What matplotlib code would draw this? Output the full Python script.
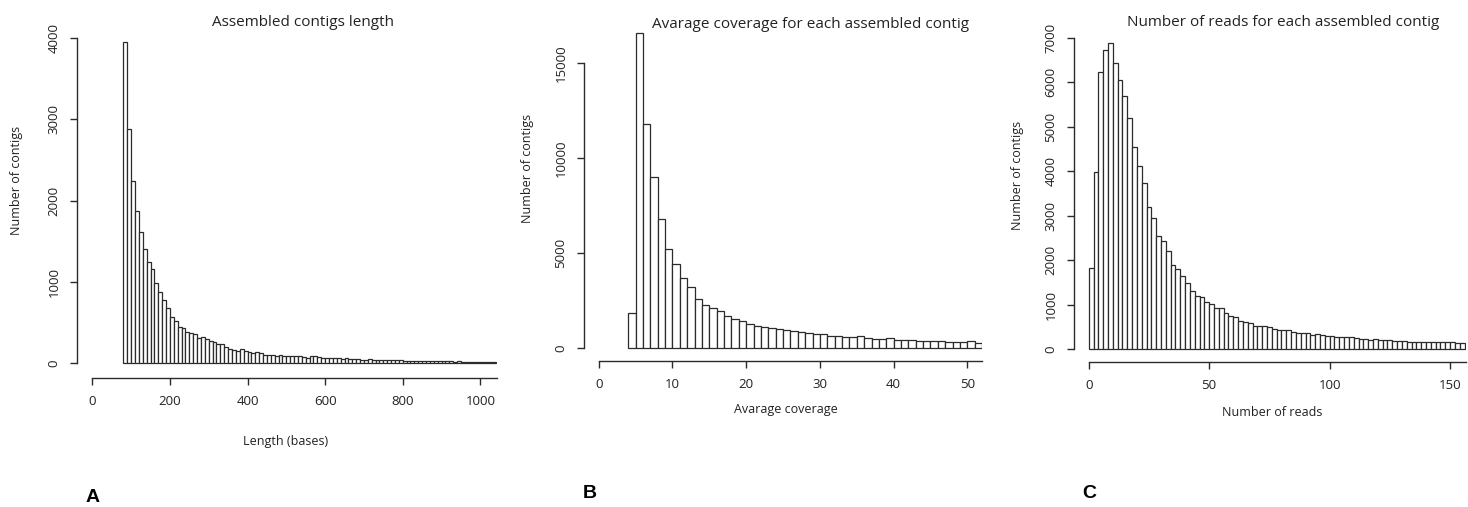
import numpy as np
import matplotlib
matplotlib.use('Agg')
import matplotlib.pyplot as plt

# panel A: contig length, bins of 10 starting at 80
len_start = 80
len_width = 10
len_counts = [3945, 2880, 2240, 1870, 1610, 1400, 1241, 1159, 991, 872,
              778, 683, 573, 520, 450, 438, 388, 369, 360, 307,
              320, 299, 274, 258, 233, 233, 204, 180, 164, 155,
              172, 155, 143, 123, 139, 131, 102, 102, 98, 94,
              100, 95, 92, 88, 90, 85, 80, 62, 88, 90,
              75, 70, 68, 66, 62, 60, 58, 60, 55, 58,
              48, 45, 44, 50, 42, 40, 38, 40, 36, 35,
              36, 40, 34, 32, 30, 31, 28, 30, 27, 28,
              26, 27, 24, 25, 24, 22, 24, 21, 20, 22,
              20, 21, 19, 20, 18, 17]

# panel B: average coverage, bins of 1 starting at 4
cov_start = 4
cov_width = 1
cov_counts = [1840, 16540, 11760, 8980, 6790, 5215, 4410, 3675, 3220, 2600,
              2290, 2140, 1970, 1720, 1550, 1410, 1290, 1180, 1110, 1060,
              1010, 940, 885, 850, 800, 760, 760, 660, 655, 590,
              590, 620, 520, 500, 480, 515, 430, 445, 445, 375,
              375, 375, 390, 340, 340, 340, 400, 300]

# panel C: number of reads, bins of 2 starting at 0
reads_start = 0
reads_width = 2
reads_counts = [1819, 3989, 6221, 6722, 6887, 6437, 6048, 5689, 5202, 4537,
                4117, 3728, 3203, 2956, 2545, 2432, 2215, 1893, 1797, 1646,
                1482, 1309, 1204, 1181, 1056, 1017, 921, 921, 809, 755,
                719, 636, 620, 580, 530, 520, 515, 500, 465, 440,
                435, 430, 380, 375, 375, 375, 320, 340, 310, 300,
                290, 270, 275, 270, 275, 250, 225, 225, 210, 225,
                205, 200, 200, 195, 180, 185, 175, 165, 170, 170,
                165, 170, 160, 160, 155, 160, 145, 150]

titles = ['Assembled contigs length',
          'Avarage coverage for each assembled contig',
          'Number of reads for each assembled contig']
xlabels = ['Length (bases)', 'Avarage coverage', 'Number of reads']
ylabel = 'Number of contigs'
letters = ['A', 'B', 'C']

W, H = 1468, 507
plt.rcParams['font.family'] = ['Open Sans', 'DejaVu Sans']
fig = plt.figure(figsize=(W / 100, H / 100), dpi=100)
fig.patch.set_facecolor('white')

ink = '#2b2b2b'


def px_axes(x0, y0, x1, y1):
    # pixel box (top-left origin) -> figure fraction
    return fig.add_axes([x0 / W, 1 - y1 / H, (x1 - x0) / W, (y1 - y0) / H])


def hist_panel(ax, start, width, counts, xlim, ylim, xticks, yticks):
    counts = np.array(counts)
    lefts = start + width * np.arange(len(counts))
    ax.bar(lefts, counts, width=width, align='edge', color='white',
           edgecolor=ink, linewidth=0.9)
    ax.set_xlim(*xlim)
    ax.set_ylim(*ylim)
    for s in ['top', 'right']:
        ax.spines[s].set_visible(False)
    ax.spines['left'].set_bounds(yticks[0], yticks[-1])
    ax.spines['bottom'].set_bounds(xticks[0], xlim[1])
    for s in ['left', 'bottom']:
        ax.spines[s].set_color(ink)
        ax.spines[s].set_linewidth(1.0)
    ax.set_xticks(xticks)
    ax.set_yticks(yticks)
    ax.tick_params(direction='out', length=5, width=1.0, color=ink,
                   labelsize=9.5, labelcolor='#222222')
    ax.tick_params(axis='y', pad=7)
    ax.tick_params(axis='x', pad=7)
    for lab in ax.get_yticklabels():
        lab.set_rotation(90)
        lab.set_va('center')
    ax.patch.set_alpha(0)


# panel A
axA = px_axes(77, 25, 497, 378)
hist_panel(axA, len_start, len_width, len_counts,
           ((77 - 92.3) / 0.388, (497 - 92.3) / 0.388),
           ((363.3 - 378) * 12.29, (363.3 - 25) * 12.29),
           [0, 200, 400, 600, 800, 1000], [0, 1000, 2000, 3000, 4000])

# panel B
axB = px_axes(584, 25, 982, 361)
hist_panel(axB, cov_start, cov_width, cov_counts,
           ((584 - 598.7) / 7.373, (982 - 598.7) / 7.373),
           ((348.3 - 361) * 52.52, (348.3 - 25) * 52.52),
           [0, 10, 20, 30, 40, 50], [0, 5000, 10000, 15000])

# panel C
axC = px_axes(1074, 25, 1466, 362)
hist_panel(axC, reads_start, reads_width, reads_counts,
           ((1074 - 1088.7) / 2.409, (1466 - 1088.7) / 2.409),
           ((349.3 - 362) * 22.46, (349.3 - 25) * 22.46),
           [0, 50, 100, 150], [0, 1000, 2000, 3000, 4000, 5000, 6000, 7000])

# titles, axis labels, panel letters placed by pixel position
title_pos = [(303, 23), (811, 25), (1283, 23)]
xlab_pos = [(286, 441), (786, 410), (1272, 413)]
ylab_pos = [(17, 180), (527, 168), (1017, 175)]
letter_pos = [(93, 497), (590, 494), (1089, 494)]

for i in range(3):
    fig.text(title_pos[i][0] / W, 1 - title_pos[i][1] / H, titles[i],
             ha='center', va='center', fontsize=11, color='#222222')
    fig.text(xlab_pos[i][0] / W, 1 - xlab_pos[i][1] / H, xlabels[i],
             ha='center', va='center', fontsize=9, color='#222222')
    fig.text(ylab_pos[i][0] / W, 1 - ylab_pos[i][1] / H, ylabel,
             ha='center', va='center', fontsize=9, rotation=90, color='#222222')
    fig.text(letter_pos[i][0] / W, 1 - letter_pos[i][1] / H, letters[i],
             ha='center', va='center', fontsize=14, fontweight='bold',
             family=['Liberation Sans', 'DejaVu Sans'], color='black')

fig.savefig('out.png', dpi=100, facecolor='white')
